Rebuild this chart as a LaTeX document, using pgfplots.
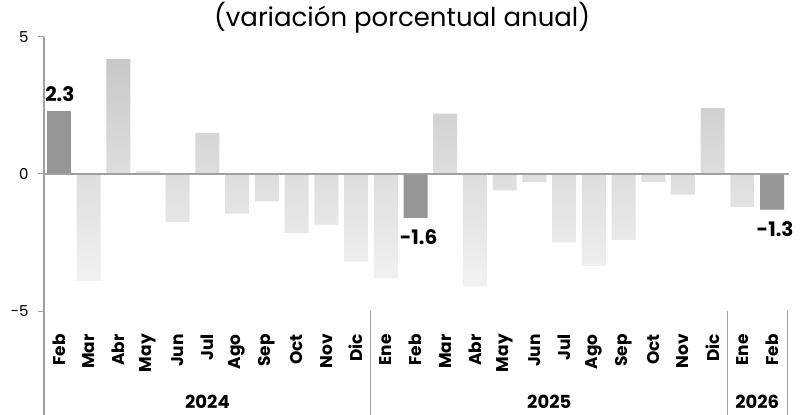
\documentclass[border=0pt]{standalone}
\usepackage{pgfplots}
\pgfplotsset{compat=1.18}
\usepackage{fontspec}
\setmainfont{Poppins}
\definecolor{darkbar}{RGB}{150,150,150}
\definecolor{axisgray}{RGB}{160,160,160}
\definecolor{lighttop}{RGB}{200,200,200}
\definecolor{lightbot}{RGB}{242,242,242}
\begin{document}
\begin{tikzpicture}
\begin{axis}[
  name=ax,
  scale only axis, width=743pt, height=274pt,
  xmin=-0.5, xmax=24.5, ymin=-5, ymax=5,
  clip=false,
  axis x line=bottom, x axis line style={draw=none},
  axis y line=left, y axis line style={axisgray, line width=1.2pt, -},
  ytick={-5,0,5},
  tick align=outside,
  major tick length=6pt,
  ytick style={axisgray, line width=1pt},
  xtick style={draw=none},
  xtick={0,...,24},
  xticklabels={Feb,Mar,Abr,May,Jun,Jul,Ago,Sep,Oct,Nov,Dic,Ene,Feb,Mar,Abr,May,Jun,Jul,Ago,Sep,Oct,Nov,Dic,Ene,Feb},
  xticklabel style={rotate=90, anchor=east, font=\bfseries\fontsize{17}{17}\selectfont, inner sep=0pt},
  xticklabel shift=17pt,
  yticklabel style={font=\fontsize{15}{15}\selectfont, xshift=-6pt},
  /pgf/number format/assume math mode=true,
]
\addplot[ybar, bar width=24pt, bar shift=0pt, draw=none, top color=lighttop, bottom color=lightbot]
 coordinates {(1,-3.9) (2,4.2) (3,0.1) (4,-1.75) (5,1.5) (6,-1.45) (7,-1.0) (8,-2.15) (9,-1.85) (10,-3.2)
 (11,-3.8) (13,2.2) (14,-4.1) (15,-0.6) (16,-0.3) (17,-2.5) (18,-3.35) (19,-2.4) (20,-0.3) (21,-0.75) (22,2.4) (23,-1.2)};
\addplot[ybar, bar width=24pt, bar shift=0pt, draw=none, fill=darkbar,
  nodes near coords, point meta=explicit symbolic,
  every node near coord/.append style={font=\bfseries\fontsize{20}{20}\selectfont, text=black, anchor=south, yshift=6pt, xshift=1pt}]
 coordinates {(0,2.3) [2.3]};
\addplot[ybar, bar width=24pt, bar shift=0pt, draw=none, fill=darkbar,
  nodes near coords, point meta=explicit symbolic,
  every node near coord/.append style={font=\bfseries\fontsize{20}{20}\selectfont, text=black, anchor=north, yshift=-8pt, xshift=3pt}]
 coordinates {(12,-1.6) [-1.6] (24,-1.3) [-1.3]};
\draw[axisgray, line width=1.2pt] (axis cs:-0.5,0) -- ([xshift=2pt]axis cs:24.5,0);
\draw[axisgray, line width=1.2pt] (axis cs:-0.5,-5) -- ([yshift=-104pt]axis cs:-0.5,-5);
\draw[axisgray, line width=1pt] (axis cs:10.5,-5) -- ([yshift=-104pt]axis cs:10.5,-5);
\draw[axisgray, line width=1pt] (axis cs:22.5,-5) -- ([yshift=-104pt]axis cs:22.5,-5);
\draw[axisgray, line width=1pt] (axis cs:24.5,-5) -- ([yshift=-104pt]axis cs:24.5,-5);
\node[font=\bfseries\fontsize{18}{18}\selectfont, inner sep=0pt] at ([yshift=-91pt]axis cs:5,-5) {2024};
\node[font=\bfseries\fontsize{18}{18}\selectfont, inner sep=0pt] at ([yshift=-91pt]axis cs:16.5,-5) {2025};
\node[font=\bfseries\fontsize{18}{18}\selectfont, inner sep=0pt] at ([yshift=-91pt]axis cs:23.5,-5) {2026};
\node[font=\fontsize{26}{26}\selectfont] at ([yshift=19pt]axis cs:11.55,5) {(variación porcentual anual)};
\end{axis}
\pgfresetboundingbox
\path ([xshift=-44pt,yshift=-104pt]ax.south west) rectangle ([xshift=14pt,yshift=37pt]ax.north east);
\end{tikzpicture}
\end{document}
